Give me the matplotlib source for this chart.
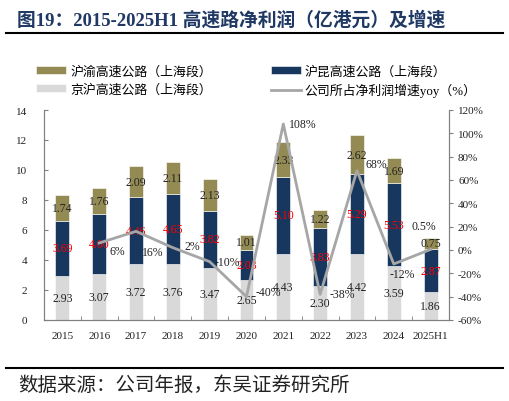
import numpy as np
import matplotlib.pyplot as plt
from matplotlib.lines import Line2D

plt.rcParams['font.family'] = ['Liberation Serif', 'Noto Sans CJK SC']

years = ['2015', '2016', '2017', '2018', '2019', '2020', '2021', '2022', '2023', '2024', '2025H1']
jinghu = [2.93, 3.07, 3.72, 3.76, 3.47, 2.65, 4.43, 2.30, 4.42, 3.59, 1.86]   # 京沪
hukun = [3.69, 4.00, 4.46, 4.65, 3.82, 2.03, 5.10, 3.83, 5.29, 5.53, 2.87]    # 沪昆
huyu = [1.74, 1.76, 2.09, 2.11, 2.13, 1.01, 2.33, 1.22, 2.62, 1.69, 0.75]     # 沪渝
yoy = [np.nan, 6, 16, 2, -10, -40, 108, -38, 68, -12, 0.5]
yoy_labels = ['', '6%', '16%', '2%', '-10%', '-40%', '108%', '-38%', '68%', '-12%', '0.5%']

c_gold = '#948A54'
c_navy = '#17375E'
c_grey = '#D9D9D9'
c_line = '#A6A6A6'

fig = plt.figure(figsize=(5.1, 4.02), dpi=100)
ax = fig.add_axes([44 / 510, 1 - 321 / 402, 405 / 510, 210 / 402])
ax2 = ax.twinx()

x = np.arange(len(years))
w = 0.38
b1 = ax.bar(x, jinghu, w, color=c_grey, edgecolor='white', linewidth=0.4)
b2 = ax.bar(x, hukun, w, bottom=jinghu, color=c_navy, edgecolor='white', linewidth=0.4)
bot3 = np.array(jinghu) + np.array(hukun)
b3 = ax.bar(x, huyu, w, bottom=bot3, color=c_gold, edgecolor='white', linewidth=0.4)

for i in range(len(years)):
    ax.text(x[i], jinghu[i] / 2, f'{jinghu[i]:.2f}', ha='center', va='center', fontsize=8.5, color='#222222')
    ax.text(x[i], jinghu[i] + hukun[i] / 2, f'{hukun[i]:.2f}', ha='center', va='center', fontsize=8.5, color='#FF0000')
    ax.text(x[i], bot3[i] + huyu[i] / 2, f'{huyu[i]:.2f}', ha='center', va='center', fontsize=8.5, color='#222222')

ax.set_xlim(-0.5, len(years) - 0.5)
ax.set_ylim(0, 14)
ax.set_yticks(range(0, 15, 2))
ax.set_xticks(x)
ax.set_xticklabels(years)
ax.set_xticks(np.arange(-0.5, len(years), 1), minor=True)
ax.tick_params(axis='x', which='major', length=0, labelsize=8, pad=8, colors='#222222')
ax.tick_params(axis='x', which='minor', length=3, direction='in', color='#808080')
ax.tick_params(axis='y', length=3, direction='in', labelsize=8, color='#808080', labelcolor='#222222', pad=12)

ax2.plot(x, yoy, color=c_line, linewidth=2, zorder=5)
ax2.set_ylim(-60, 120)
ax2.set_yticks(range(-60, 121, 20))
ax2.set_yticklabels([f'{v}%' for v in range(-60, 121, 20)])
ax2.tick_params(axis='y', length=3, direction='out', labelsize=8, color='#808080', labelcolor='#222222')

# label offsets (points) for the yoy labels
offs = [(0, 0), (13, -6), (12, -15), (14, 1), (13, 0), (16, 3), (14, 0), (16, 0), (14, 5), (6, -7), (-5, 17)]
for i in range(1, len(years)):
    ax2.annotate(yoy_labels[i], (x[i], yoy[i]), xytext=offs[i], textcoords='offset points',
                 ha='center', va='center', fontsize=8.5, color='#222222', zorder=6)

for a in (ax, ax2):
    a.spines['top'].set_visible(False)
    for s in ('left', 'right', 'bottom'):
        a.spines[s].set_color('#808080')
        a.spines[s].set_linewidth(0.8)

handles = [b3, b1, b2, Line2D([0], [0], color=c_line, linewidth=2)]
labels = ['沪渝高速公路（上海段）', '京沪高速公路（上海段）', '沪昆高速公路（上海段）', '公司所占净利润增速yoy（%）']
fig.legend(handles, labels, ncol=2, loc='upper left', bbox_to_anchor=(30 / 510, 1 - 60 / 402),
           frameon=False, fontsize=9.3, handlelength=2.3, handleheight=0.6, labelspacing=0.4,
           columnspacing=4.6, handletextpad=0.3, borderpad=0)

fig.text(17 / 510, 1 - 20 / 402, '图19：2015-2025H1 高速路净利润（亿港元）及增速', fontsize=13.5,
         fontweight='bold', color='#1F3864', va='center', ha='left')
fig.add_artist(Line2D([6 / 510, 503 / 510], [1 - 34 / 402] * 2, color='black', linewidth=1.5))
fig.add_artist(Line2D([6 / 510, 503 / 510], [1 - 369 / 402] * 2, color='black', linewidth=1.5))
fig.text(18 / 510, 1 - 386 / 402, '数据来源：公司年报，东吴证券研究所', fontsize=14, color='#222222',
         va='center', ha='left')

fig.savefig('out.png', dpi=100)
